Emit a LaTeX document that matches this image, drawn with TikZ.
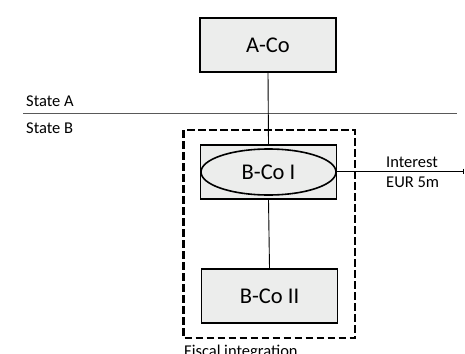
\documentclass[tikz,border=0pt]{standalone}
\usepackage{fontspec}
\setmainfont{Carlito}
\usetikzlibrary{shapes.geometric,arrows.meta}
\definecolor{boxfill}{RGB}{236,237,236}
\tikzset{
  cobox/.style={draw=black, line width=1.8pt, fill=boxfill, minimum width=136pt, minimum height=54pt, inner sep=0pt, font=\fontsize{22.5}{24}\selectfont},
  coell/.style={ellipse, draw=black, line width=1.6pt, fill=boxfill, minimum width=135pt, minimum height=46pt, inner sep=0pt, font=\fontsize{22.5}{24}\selectfont},
  lbl/.style={inner sep=0pt, anchor=west, font=\fontsize{16.5}{18}\selectfont},
  conn/.style={line width=0.9pt, draw=black}
}
\begin{document}
\begin{tikzpicture}[x=1pt,y=-1pt]
\useasboundingbox (0,0) rectangle (465,353);
\node[cobox] (aco) at (268,45) {A-Co};
\node[cobox] (bcoi) at (268.5,172) {};
\node[coell] (bcoiell) at (268.5,172) {B-Co I};
\node[cobox] (bcoii) at (269.5,296) {B-Co II};
\draw[line width=2.6pt, dash pattern=on 7.5pt off 3.5pt] (183.5,130) rectangle (355,338);
\coordinate (sl) at (23,113.5);
\coordinate (sr) at (457,113.5);
\draw[line width=1pt, draw=black!65] (sl) -- (sr);
\node[lbl] (sa) at (26,101) {State A};
\node[lbl] (sb) at (26,128) {State B};
\node[lbl] (int) at (386,162) {Interest};
\node[lbl] (eur) at (386,182) {EUR 5m};
\node[lbl, anchor=north west] (fi) at (184,344.5) {Fiscal integration};
\coordinate (iend) at (464,171);
\draw[conn] (aco.south) -- (bcoi.north);
\draw[conn] (bcoi.south) -- (bcoii.north);
\draw[conn, -{Bar[width=5pt,line width=1pt]}] (bcoi.east |- iend) -- (iend);
\end{tikzpicture}
\end{document}
